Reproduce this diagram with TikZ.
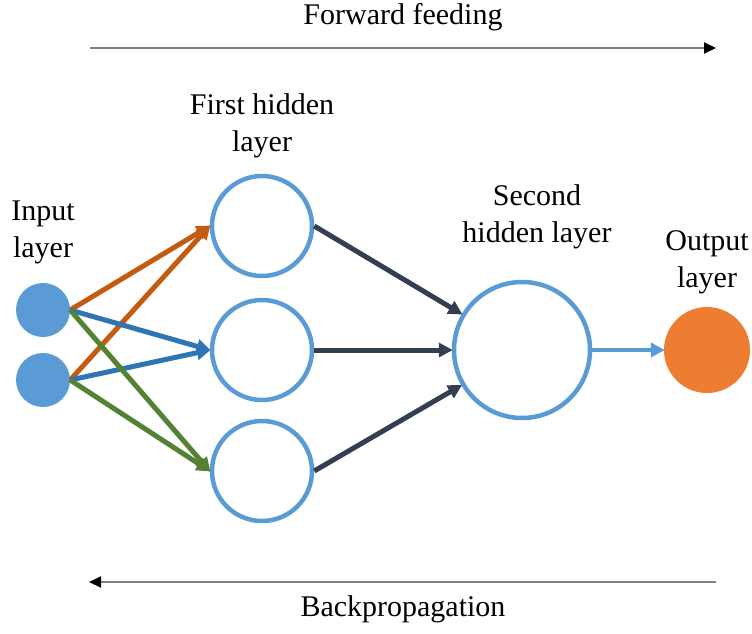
\documentclass[tikz,border=0pt]{standalone}
\usepackage{fontspec}
\setmainfont{Liberation Serif}
\usetikzlibrary{arrows.meta}
\definecolor{nodeblue}{HTML}{5B9BD5}
\definecolor{arrorange}{HTML}{C55A11}
\definecolor{arrblue}{HTML}{2E75B6}
\definecolor{arrgreen}{HTML}{548235}
\definecolor{arrdark}{HTML}{333F50}
\definecolor{outorange}{HTML}{ED7D31}
\tikzset{
  inputnode/.style={circle, fill=nodeblue, minimum size=54pt, inner sep=0pt},
  hiddennode/.style={circle, draw=nodeblue, line width=4.5pt, fill=white, minimum size=100pt, inner sep=0pt},
  bignode/.style={circle, draw=nodeblue, line width=4.5pt, fill=white, minimum size=136pt, inner sep=0pt},
  outnode/.style={circle, fill=outorange, minimum size=86pt, inner sep=0pt},
  link/.style={line width=5pt, -{Triangle[length=14pt,width=14pt]}, shorten >=-1pt},
  label/.style={font=\fontsize{30}{37}\selectfont, align=center, inner sep=0pt},
  flow/.style={line width=2pt, draw=gray, -{Triangle[length=12pt,width=11pt,color=black]}}
}
\begin{document}
\begin{tikzpicture}[x=1pt,y=-1pt]
\useasboundingbox (0,0) rectangle (752,634);

% layers
\node[inputnode] (i1) at (43,310) {};
\node[inputnode] (i2) at (43,380) {};
\node[hiddennode] (h1) at (262,226) {};
\node[hiddennode] (h2) at (262,350) {};
\node[hiddennode] (h3) at (262,471) {};
\node[bignode] (s) at (522,350) {};
\node[outnode] (o) at (707,350) {};

% input -> first hidden layer
\draw[link, arrorange] (i1.east) -- (h1.west);
\draw[link, arrorange] (i2.east) -- (h1.west);
\draw[link, arrblue] (i1.east) -- (h2.west);
\draw[link, arrblue] (i2.east) -- (h2.west);
\draw[link, arrgreen] (i1.east) -- (h3.west);
\draw[link, arrgreen] (i2.east) -- (h3.west);

% first hidden -> second hidden layer
\draw[link, arrdark] (h1.east) -- (s);
\draw[link, arrdark] (h2.east) -- (s.west);
\draw[link, arrdark] (h3.east) -- (s);

% second hidden -> output
\draw[link, nodeblue, line width=3.5pt] (s.east) -- (o.west);

% labels
\node[label] (lin) at (43,232) {Input\\layer};
\node[label] (lh1) at (262,126) {First hidden\\layer};
\node[label] (lh2) at (537,217) {Second\\hidden layer};
\node[label] (lout) at (707,262) {Output\\layer};

% direction arrows
\coordinate (fa) at (90,48);
\coordinate (fb) at (716,48);
\coordinate (ba) at (716,582);
\coordinate (bb) at (89,582);
\draw[flow] (fa) -- (fb);
\draw[flow] (ba) -- (bb);
\node[label] (tf) at (403,17) {Forward feeding};
\node[label] (tb) at (403,609) {Backpropagation};
\end{tikzpicture}
\end{document}
